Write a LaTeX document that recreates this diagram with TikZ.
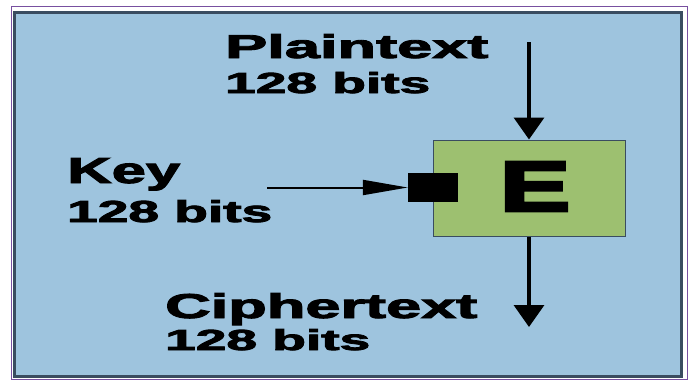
\documentclass[tikz,border=0pt]{standalone}
\usepackage{fontspec}
\setmainfont{Liberation Sans}
\newfontfamily\heavyfont{Liberation Sans Bold}[FakeBold=2.5]
\newfontfamily\heavierfont{Liberation Sans Bold}[FakeBold=4]
\usepackage{graphicx}
\usetikzlibrary{arrows.meta}
\definecolor{panelblue}{RGB}{158,196,222}
\definecolor{boxgreen}{RGB}{157,192,112}
\definecolor{edgedark}{RGB}{58,76,96}
\definecolor{outerpurple}{RGB}{120,80,160}
\tikzset{
  lbl/.style={anchor=base west, inner sep=0pt, font=\heavyfont},
  flow/.style={line width=3.5pt, -{Triangle[length=22pt,width=30pt]}},
  keyflow/.style={line width=2pt, -{Triangle[length=45pt,width=15pt]}},
}
\begin{document}
\begin{tikzpicture}[x=1pt,y=-1pt]
\useasboundingbox (0,0) rectangle (689,380);
\draw[outerpurple, line width=1pt] (11,6) rectangle (687,379.5);
\draw[edgedark, fill=panelblue, line width=3pt] (14,12) rectangle (681,376);
% encryption box
\node[draw=edgedark, fill=boxgreen, line width=1pt, minimum width=192pt, minimum height=96pt, inner sep=0pt] (box) at (529,188) {};
\node[inner sep=0pt, font=\heavierfont] (E) at (535,186.5) {\resizebox{70pt}{49pt}{E}};
\node[fill=black, minimum width=50pt, minimum height=29pt, inner sep=0pt] (keysq) at (433,187.5) {};
% labels
\node[lbl] (pt) at (225,58) {\resizebox{263pt}{24pt}{Plaintext}};
\node[lbl] (ptb) at (225,93) {\resizebox{205pt}{21pt}{128 bits}};
\node[lbl] (key) at (67,183) {\resizebox{113pt}{25pt}{Key}};
\node[lbl] (keyb) at (67,222) {\resizebox{205pt}{22pt}{128 bits}};
\node[lbl] (ct) at (165,318) {\resizebox{312pt}{25pt}{Ciphertext}};
\node[lbl] (ctb) at (165,350) {\resizebox{205pt}{21pt}{128 bits}};
% connectors
\coordinate (ptop) at (529,42);
\coordinate (kstart) at (267,187.5);
\coordinate (cend) at (529,327);
\draw[flow] (ptop) -- (box.north);
\draw[flow] (box.south) -- (cend);
\draw[keyflow] (kstart) -- (keysq.west);
\end{tikzpicture}
\end{document}
